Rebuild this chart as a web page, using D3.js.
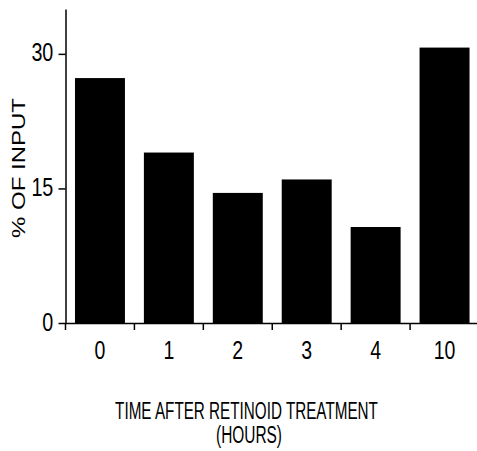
<!DOCTYPE html>
<html>
<head>
<meta charset="utf-8">
<script src="https://cdn.jsdelivr.net/npm/d3@7"></script>
<style>
  body { margin: 0; background: #fff; }
  text { font-family: "Liberation Sans", Arial, Helvetica, sans-serif; fill: #000; }
</style>
</head>
<body>
<div id="container"></div>
<script>
// values
var hours = ["0", "1", "2", "3", "4", "10"]
var percentInput = [27.3, 19.0, 14.5, 16.0, 10.7, 30.7]
var yTicks = [0, 15, 30]

var width = 477
var height = 451

var svg = d3.select("#container")
  .append("svg")
  .attr("width", width)
  .attr("height", height)

var x = d3.scaleBand()
  .domain(hours)
  .range([65.5, 479])
  .paddingInner(0.275)
  .paddingOuter(0.1375)

var y = d3.scaleLinear()
  .domain([0, 35])
  .range([323, 9])

// bars
svg.append("g")
  .selectAll("rect")
  .data(percentInput)
  .enter()
  .append("rect")
  .attr("x", (d, i) => x(hours[i]))
  .attr("y", (d) => y(d))
  .attr("width", x.bandwidth())
  .attr("height", (d) => y(0) - y(d))
  .style("fill", "#000")

// x axis: labels at the band centres, ticks between the bands
var xAxis = svg.append("g")
  .attr("transform", "translate(0," + y(0) + ")")
  .call(d3.axisBottom(x).tickSize(0).tickPadding(18.5))

xAxis.select(".domain").attr("stroke-width", 1.5)
// the lettering in the original is tall and narrow
xAxis.selectAll("text")
  .style("font-size", "25px")
  .attr("transform", "scale(0.78,1)")

var half = (x.step() - x.bandwidth()) / 2
xAxis.selectAll("line.sep")
  .data(hours)
  .enter()
  .append("line")
  .attr("class", "sep")
  .attr("x1", (d) => x(d) - half)
  .attr("x2", (d) => x(d) - half)
  .attr("y1", 0)
  .attr("y2", 7)
  .attr("stroke", "#000")
  .attr("stroke-width", 1.5)

// y axis
var yAxis = svg.append("g")
  .attr("transform", "translate(65.5,0)")
  .call(d3.axisLeft(y).tickValues(yTicks).tickSize(7).tickSizeOuter(0).tickPadding(9))

yAxis.select(".domain").attr("stroke-width", 1.5)
yAxis.selectAll(".tick line").attr("stroke-width", 1.5)
yAxis.selectAll("text")
  .style("font-size", "26px")
  .attr("dy", "0.27em")
  .attr("transform", "scale(0.76,1)")

// squeeze a label to a given width around its centre
function narrowText(cx, cy, rotate, size, wantWidth, label) {
  var g = svg.append("g")
    .attr("transform", "translate(" + cx + "," + cy + ") rotate(" + rotate + ")")
  var t = g.append("text")
    .attr("text-anchor", "middle")
    .style("font-size", size + "px")
    .text(label)
  var k = wantWidth / t.node().getComputedTextLength()
  t.attr("transform", "scale(" + k + ",1)")
}

// axis titles
narrowText(25, 168, -90, 19, 140, "% OF INPUT")
narrowText(246.5, 418.5, 0, 23, 263, "TIME AFTER RETINOID TREATMENT")
narrowText(249, 443, 0, 23, 66, "(HOURS)")
</script>
</body>
</html>
